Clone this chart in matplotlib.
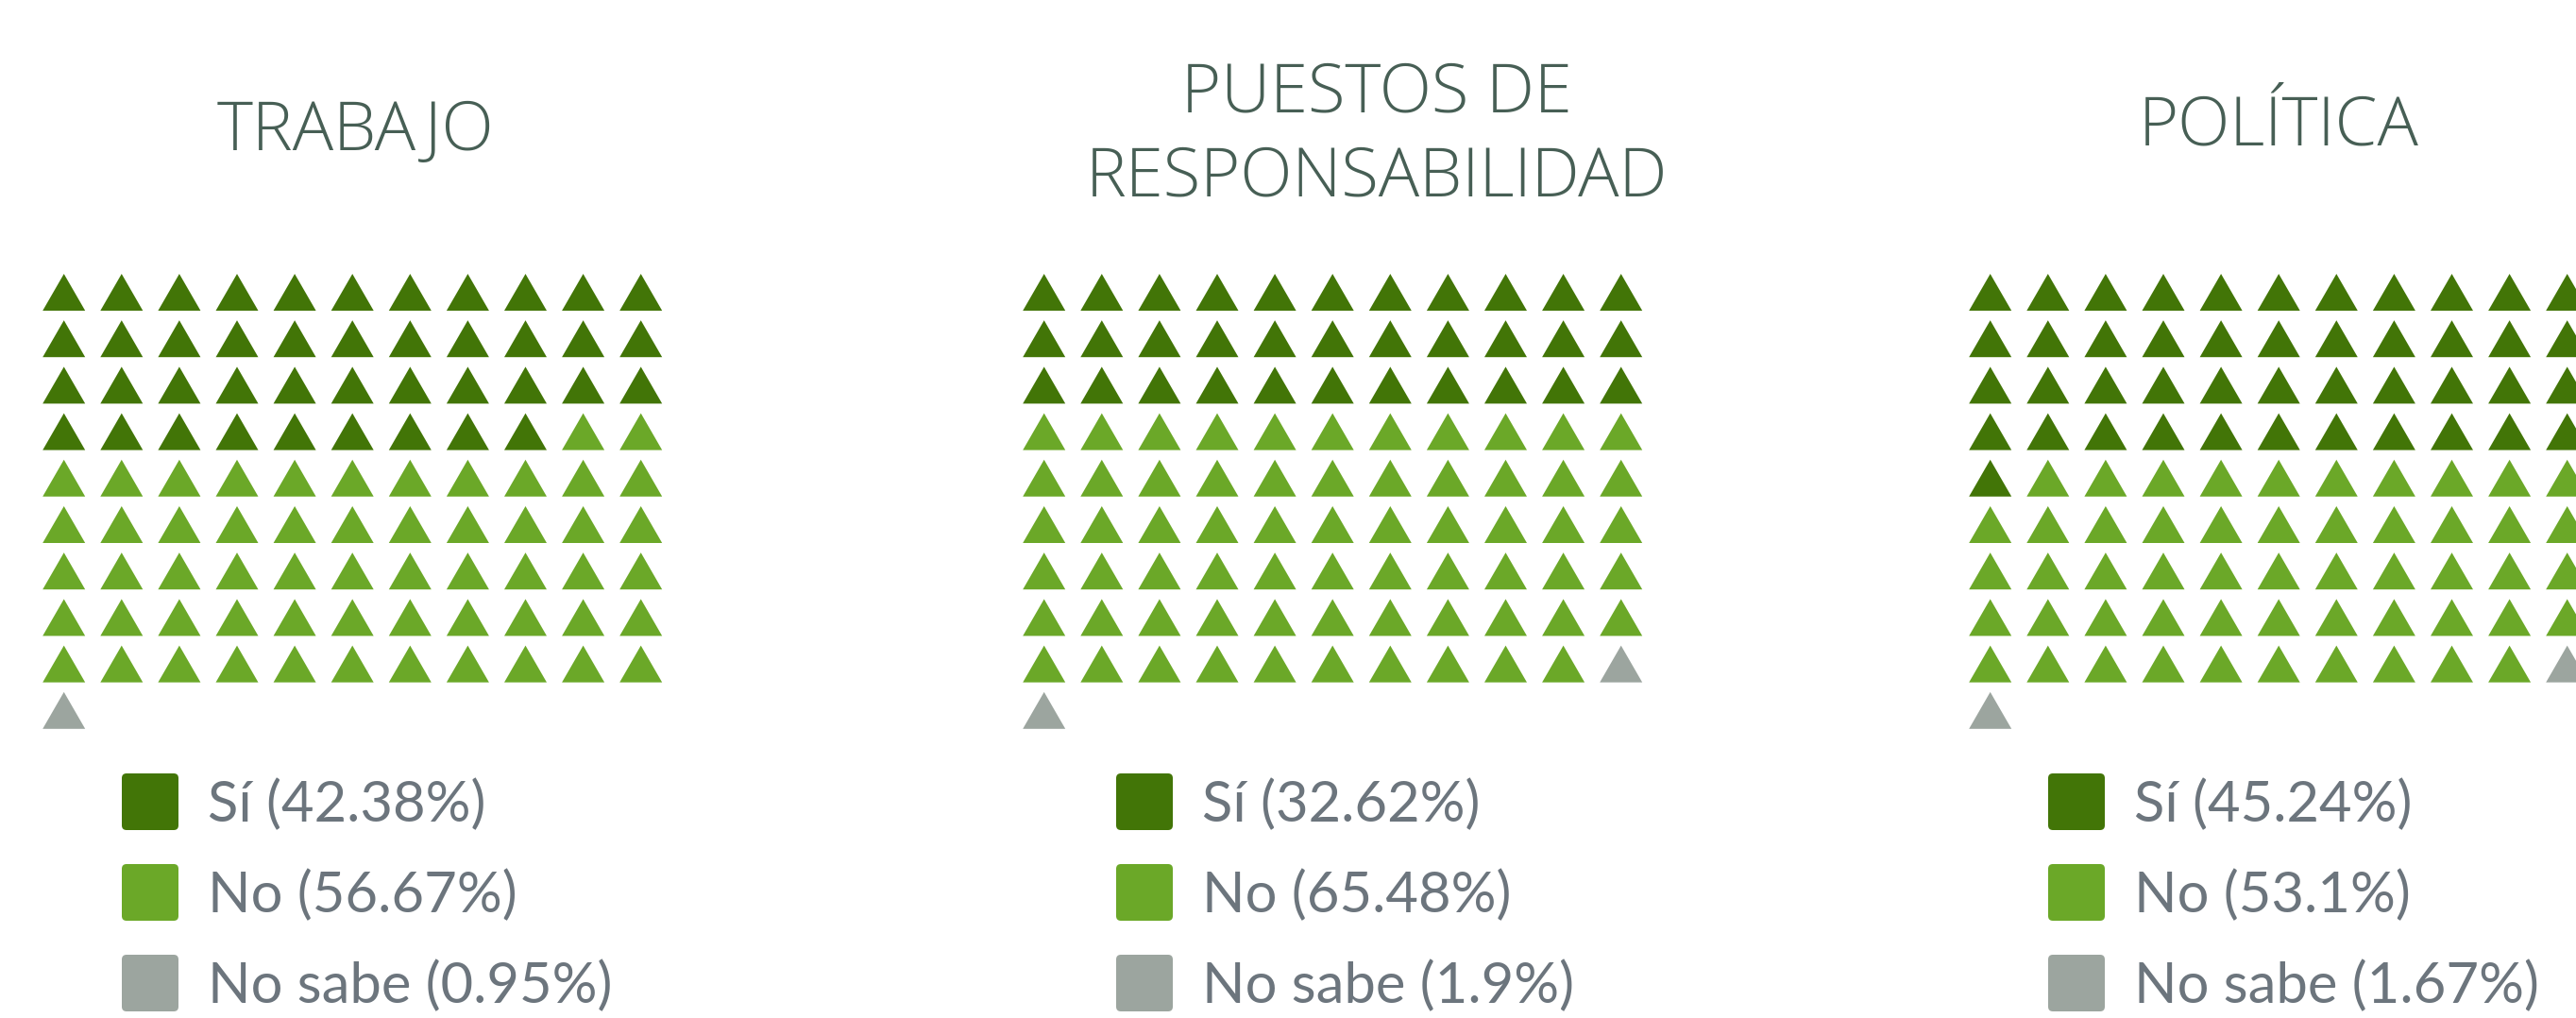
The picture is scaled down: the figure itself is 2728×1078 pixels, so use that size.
import matplotlib.pyplot as plt
from matplotlib.patches import Polygon, FancyBboxPatch

# data
categories = ["Sí", "No", "No sabe"]
panel_titles = ["TRABAJO", "PUESTOS DE\nRESPONSABILIDAD", "POLÍTICA"]
trabajo_pct = [42.38, 56.67, 0.95]
puestos_pct = [32.62, 65.48, 1.9]
politica_pct = [45.24, 53.1, 1.67]

colors = ["#427507", "#6ba828", "#9ca59f"]
TITLE_COLOR = "#475f55"
TEXT_COLOR = "#6c757d"

W, H = 2728, 1078
N_COLS = 11
COL_STEP = 61.1
ROW_STEP = 49.2
TRI_W = 45
TRI_H = 39
TOP_APEX = 290

# per panel layout (pixels): first triangle x, title centre, baseline of the
# last title line, legend square left edge
panels = [
    dict(pct=trabajo_pct, x0=67.7, tx=376, ty=159, lx=129),
    dict(pct=puestos_pct, x0=1105.7, tx=1458, ty=207, lx=1182),
    dict(pct=politica_pct, x0=2107.7, tx=2413, ty=153, lx=2169),
]

fig = plt.figure(figsize=(W / 100, H / 100), dpi=100)
fig.patch.set_facecolor("white")
ax = fig.add_axes([0, 0, 1, 1])
ax.set_xlim(0, W)
ax.set_ylim(H, 0)
ax.axis("off")

for p, title in zip(panels, panel_titles):
    counts = [round(v) for v in p["pct"]]
    cells = []
    for k, c in enumerate(counts):
        cells += [k] * c

    for i, k in enumerate(cells):
        r, c = divmod(i, N_COLS)
        cx = p["x0"] + c * COL_STEP
        top = TOP_APEX + r * ROW_STEP
        tri = Polygon([(cx, top), (cx - TRI_W / 2, top + TRI_H),
                       (cx + TRI_W / 2, top + TRI_H)],
                      closed=True, facecolor=colors[k], edgecolor="none")
        ax.add_patch(tri)

    ax.text(p["tx"], p["ty"], title, ha="center", va="baseline",
            fontsize=52, color=TITLE_COLOR, family="Open Sans",
            fontweight="light", linespacing=1.3)

    for j, (cat, v) in enumerate(zip(categories, p["pct"])):
        cy = 849 + j * 96
        sq = FancyBboxPatch((p["lx"], cy - 30), 60, 60,
                            boxstyle="round,pad=0,rounding_size=5",
                            facecolor=colors[j], edgecolor="none")
        ax.add_patch(sq)
        ax.text(p["lx"] + 91, cy + 21.5, f"{cat} ({v}%)", ha="left",
                va="baseline", fontsize=43, color=TEXT_COLOR, family="Lato")

fig.savefig("out.png", dpi=100, facecolor="white")
